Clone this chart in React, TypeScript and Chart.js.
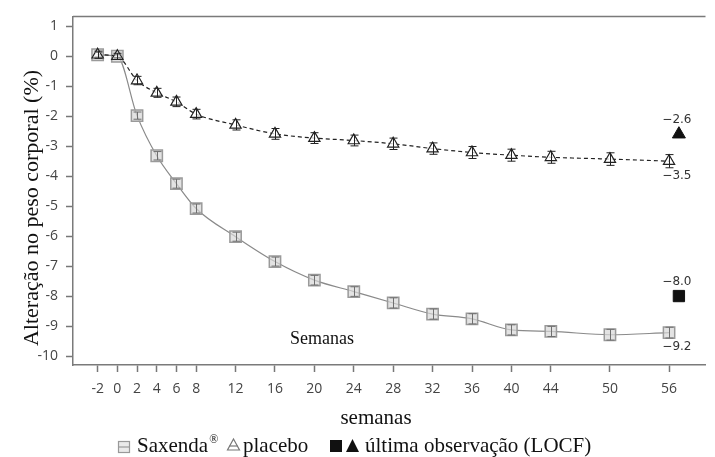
import React, { useEffect, useRef } from "react";
import { Chart, registerables } from "chart.js";

Chart.register(...registerables);

const weeks = [-2, 0, 2, 4, 6, 8, 12, 16, 20, 24, 28, 32, 36, 40, 44, 50, 56];
const saxenda = [0.05, 0, -1.98, -3.32, -4.25, -5.08, -6.02, -6.85, -7.47, -7.85, -8.23, -8.6, -8.76, -9.13, -9.18, -9.29, -9.22];
const saxendaErr = [0.08, 0.05, 0.12, 0.14, 0.15, 0.15, 0.15, 0.15, 0.16, 0.16, 0.17, 0.17, 0.17, 0.17, 0.17, 0.18, 0.18];
const placebo = [0.05, 0, -0.81, -1.22, -1.52, -1.93, -2.29, -2.59, -2.73, -2.81, -2.92, -3.08, -3.21, -3.3, -3.37, -3.43, -3.5];
const placeboErr = [0.12, 0.1, 0.14, 0.15, 0.16, 0.16, 0.17, 0.18, 0.18, 0.18, 0.19, 0.19, 0.2, 0.2, 0.2, 0.21, 0.22];
const locfWeek = 57;
const saxendaLOCF = -8.0;
const placeboLOCF = -2.6;
const xTicks = [-2, 0, 2, 4, 6, 8, 12, 16, 20, 24, 28, 32, 36, 40, 44, 50, 56];
const yTicks = [-10, -9, -8, -7, -6, -5, -4, -3, -2, -1, 0, 1];

const SERIF = "'Liberation Serif', 'Times New Roman', serif";
const SANS = "'Open Sans', 'DejaVu Sans', sans-serif";
const ANN = "'DejaVu Sans', sans-serif";

const fmt = (v: number) => "\u2212" + Math.abs(v).toFixed(1);

const extrasPlugin = {
  id: "extras",
  afterDatasetsDraw(chart: any) {
    const { ctx, scales, chartArea } = chart;
    const xs = scales.x;
    const ys = scales.y;
    ctx.save();
    // top border
    ctx.strokeStyle = "#7a7a7a";
    ctx.lineWidth = 1.5;
    ctx.beginPath();
    ctx.moveTo(chartArea.left, chartArea.top);
    ctx.lineTo(chartArea.right, chartArea.top);
    ctx.stroke();

    // error bars
    const drawErr = (vals: number[], errs: number[], color: string, cap: number) => {
      ctx.strokeStyle = color;
      ctx.lineWidth = 1;
      vals.forEach((v, i) => {
        const px = Math.round(xs.getPixelForValue(weeks[i])) + 0.5;
        const top = ys.getPixelForValue(v + errs[i]);
        const bot = ys.getPixelForValue(v - errs[i]);
        ctx.beginPath();
        ctx.moveTo(px, top);
        ctx.lineTo(px, bot);
        ctx.moveTo(px - cap, top);
        ctx.lineTo(px + cap, top);
        ctx.moveTo(px - cap, bot);
        ctx.lineTo(px + cap, bot);
        ctx.stroke();
      });
    };
    drawErr(saxenda, saxendaErr, "#6f6f6f", 4);
    drawErr(placebo, placeboErr, "#222", 4);

    // value annotations
    ctx.fillStyle = "#333";
    ctx.font = "12px " + ANN;
    ctx.textAlign = "center";
    ctx.textBaseline = "middle";
    const lx = xs.getPixelForValue(56.8);
    ctx.fillText(fmt(placeboLOCF), lx, ys.getPixelForValue(placeboLOCF) - 14);
    ctx.fillText(fmt(placebo[placebo.length - 1]), lx, ys.getPixelForValue(placebo[placebo.length - 1]) + 15);
    ctx.fillText(fmt(saxendaLOCF), lx, ys.getPixelForValue(saxendaLOCF) - 14);
    ctx.fillText(fmt(saxenda[saxenda.length - 1]), lx, ys.getPixelForValue(saxenda[saxenda.length - 1]) + 14);

    // inner text
    ctx.fillStyle = "#111";
    ctx.textAlign = "left";
    ctx.textBaseline = "alphabetic";
    ctx.font = "18px " + SERIF;
    ctx.fillText("Semanas", 290, 344);

    // axis titles
    ctx.font = "21px " + SERIF;
    ctx.textAlign = "center";
    ctx.fillText("semanas", 376, 424);

    ctx.save();
    ctx.translate(38, 208);
    ctx.rotate(-Math.PI / 2);
    ctx.font = "22px " + SERIF;
    ctx.fillText("Alteração no peso corporal (%)", 0, 0);
    ctx.restore();

    // legend
    const ly = 447;
    ctx.strokeStyle = "#999";
    ctx.fillStyle = "rgba(220,220,220,0.6)";
    ctx.lineWidth = 1.2;
    ctx.fillRect(118.5, ly - 5.5, 11, 11);
    ctx.strokeRect(118.5, ly - 5.5, 11, 11);
    ctx.beginPath();
    ctx.moveTo(118.5, ly);
    ctx.lineTo(129.5, ly);
    ctx.stroke();
    ctx.fillStyle = "#111";
    ctx.textAlign = "left";
    ctx.font = "21px " + SERIF;
    ctx.fillText("Saxenda", 137, 452);
    const sw = ctx.measureText("Saxenda").width;
    ctx.font = "12px " + SERIF;
    ctx.fillText("®", 137 + sw + 1, 443);
    ctx.strokeStyle = "#777";
    ctx.lineWidth = 1.2;
    ctx.beginPath();
    ctx.moveTo(233.5, ly - 8);
    ctx.lineTo(239.5, ly + 3);
    ctx.lineTo(227.5, ly + 3);
    ctx.closePath();
    ctx.stroke();
    ctx.beginPath();
    ctx.moveTo(229.5, ly - 1);
    ctx.lineTo(237.5, ly - 1);
    ctx.stroke();
    ctx.font = "21px " + SERIF;
    ctx.fillText("placebo", 243, 452);
    ctx.fillStyle = "#111";
    ctx.fillRect(330, ly - 7, 12, 12);
    ctx.beginPath();
    ctx.moveTo(352.5, ly - 8);
    ctx.lineTo(359, ly + 5);
    ctx.lineTo(346, ly + 5);
    ctx.closePath();
    ctx.fill();
    ctx.fillText("última observação (LOCF)", 365, 452);
    ctx.restore();
  },
};

export default function App() {
  const ref = useRef<HTMLCanvasElement | null>(null);
  useEffect(() => {
    if (!ref.current) return;
    const chart = new Chart(ref.current, {
      type: "line",
      data: {
        datasets: [
          {
            label: "placebo",
            data: weeks.map((w, i) => ({ x: w, y: placebo[i] })),
            borderColor: "#222",
            borderWidth: 1.2,
            borderDash: [4, 3],
            pointStyle: "triangle",
            pointRadius: 6.5,
            pointBackgroundColor: "rgba(255,255,255,0.75)",
            pointBorderColor: "#222",
            pointBorderWidth: 1.2,
            cubicInterpolationMode: "monotone",
          },
          {
            label: "Saxenda",
            data: weeks.map((w, i) => ({ x: w, y: saxenda[i] })),
            borderColor: "#8a8a8a",
            borderWidth: 1.2,
            pointStyle: "rect",
            pointRadius: 8,
            pointBackgroundColor: "rgba(215,215,215,0.7)",
            pointBorderColor: "#9a9a9a",
            pointBorderWidth: 1.5,
            cubicInterpolationMode: "monotone",
          },
          {
            label: "placebo LOCF",
            data: [{ x: locfWeek, y: placeboLOCF }],
            showLine: false,
            pointStyle: "triangle",
            pointRadius: 7.5,
            pointBackgroundColor: "#111",
            pointBorderColor: "#111",
          },
          {
            label: "Saxenda LOCF",
            data: [{ x: locfWeek, y: saxendaLOCF }],
            showLine: false,
            pointStyle: "rect",
            pointRadius: 8,
            pointBackgroundColor: "#111",
            pointBorderColor: "#111",
          },
        ],
      },
      options: {
        animation: false,
        responsive: false,
        devicePixelRatio: 1,
        layout: { padding: { top: 13, left: 0, right: 0, bottom: 0 } },
        plugins: { legend: { display: false }, tooltip: { enabled: false }, title: { display: false } },
        scales: {
          x: {
            type: "linear",
            min: -4.5,
            max: 59.7,
            afterBuildTicks: (s: any) => {
              s.ticks = xTicks.map((v) => ({ value: v }));
            },
            afterFit: (s: any) => {
              s.height = 92;
            },
            grid: { drawOnChartArea: false, drawTicks: true, tickLength: 7, tickColor: "#777", tickWidth: 1.5 },
            border: { color: "#7a7a7a", width: 1.5 },
            ticks: { font: { family: SANS, size: 14 }, color: "#444", padding: 9, maxRotation: 0, autoSkip: false },
          },
          y: {
            type: "linear",
            min: -10.3,
            max: 1.33,
            afterBuildTicks: (s: any) => {
              s.ticks = yTicks.map((v) => ({ value: v }));
            },
            afterFit: (s: any) => {
              s.width = 73;
            },
            grid: { drawOnChartArea: false, drawTicks: true, tickLength: 7, tickColor: "#777", tickWidth: 1.5 },
            border: { color: "#7a7a7a", width: 1.5 },
            ticks: { font: { family: SANS, size: 14 }, color: "#444", padding: 8 },
          },
        },
      },
      plugins: [extrasPlugin],
    } as any);
    return () => chart.destroy();
  }, []);
  return (
    <div style={{ position: "absolute", left: 0, top: 0, width: 715, height: 457, background: "#fff" }}>
      <canvas ref={ref} width={715} height={457} />
    </div>
  );
}
